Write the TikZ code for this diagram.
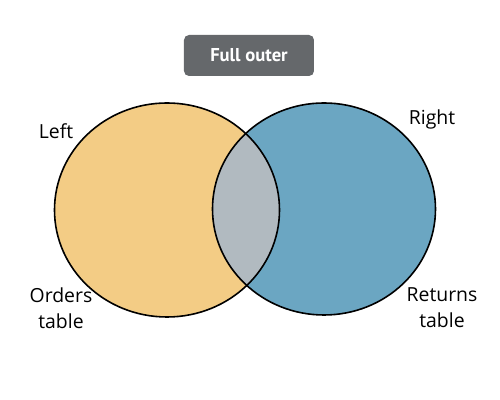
\documentclass[tikz,border=0pt]{standalone}
\usepackage{fontspec}
\setmainfont{Open Sans}
\newfontfamily\tagfont{PT Sans}
\definecolor{ordersfill}{HTML}{F3CC85}
\definecolor{returnsfill}{HTML}{6BA6C2}
\definecolor{bothfill}{HTML}{B1BAC0}
\definecolor{tagfill}{HTML}{65686B}
\begin{document}
\begin{tikzpicture}
  [x=0.5pt,y=-0.5pt,
   every node/.style={font=\fontsize{9.7}{13}\selectfont},
   outline/.style={draw=black,line width=0.8pt},
   tag/.style={fill=tagfill,text=white,rounded corners=2.5pt,
     minimum width=65pt,minimum height=20.5pt,inner sep=0pt,
     font=\tagfont\fontsize{9.3}{11}\selectfont\bfseries}]
  \useasboundingbox (0,0) rectangle (500,400);
  % the two tables
  \fill[ordersfill] (167,210) ellipse [x radius=112.5,y radius=107];
  \fill[returnsfill] (324,209) ellipse [x radius=111.5,y radius=106];
  \begin{scope}
    \clip (167,210) ellipse [x radius=112.5,y radius=107];
    \fill[bothfill] (324,209) ellipse [x radius=111.5,y radius=106];
  \end{scope}
  \draw[outline] (167,210) ellipse [x radius=112.5,y radius=107];
  \draw[outline] (324,209) ellipse [x radius=111.5,y radius=106];
  % labels
  \node (full)[tag] at (249,55.5) {Full outer\hspace{5pt}};
  \node (left) at (56,131) {Left};
  \node (right) at (432,119) {Right};
  \node (orders)[align=center] at (61,308) {Orders\\table};
  \node (returns)[align=center] at (442,308) {Returns\\table};
\end{tikzpicture}
\end{document}
